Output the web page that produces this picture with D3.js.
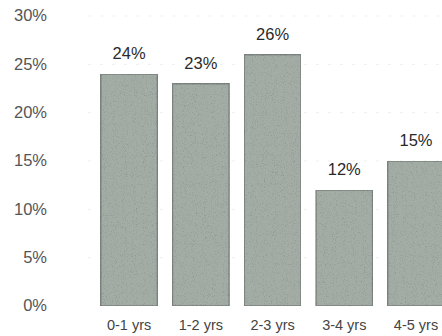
<!DOCTYPE html>
<html>
<head>
<meta charset="utf-8">
<script src="https://cdn.jsdelivr.net/npm/d3@7"></script>
<style>
  html, body { margin: 0; padding: 0; background: #fff; }
  svg { display: block; font-family: "Liberation Sans", Arial, sans-serif; }
</style>
</head>
<body>
<svg id="chart" width="442" height="336"></svg>
<script>
// Share of tenure bands
const categories = ["0-1 yrs", "1-2 yrs", "2-3 yrs", "3-4 yrs", "4-5 yrs"];
const shares = [24, 23, 26, 12, 15];
const yTicks = [0, 5, 10, 15, 20, 25, 30];

const svg = d3.select("#chart");
const W = 442, H = 336;

const y = d3.scaleLinear().domain([0, 30]).range([306, 16]);
const x = d3.scaleBand()
  .domain(categories)
  .range([93.2, 451.9])
  .paddingInner(0.21)
  .paddingOuter(0.105);

// grainy fill for the bars
const defs = svg.append("defs");
const f = defs.append("filter").attr("id", "grain")
  .attr("x", 0).attr("y", 0).attr("width", 1).attr("height", 1);
f.append("feTurbulence").attr("type", "fractalNoise")
  .attr("baseFrequency", 1.1).attr("numOctaves", 2).attr("seed", 7).attr("result", "noise");
f.append("feColorMatrix").attr("in", "noise").attr("type", "saturate").attr("values", 0).attr("result", "gray");
const ct = f.append("feComponentTransfer").attr("in", "gray").attr("result", "soft");
ct.append("feFuncR").attr("type", "linear").attr("slope", 1.1).attr("intercept", 0.47);
ct.append("feFuncG").attr("type", "linear").attr("slope", 1.1).attr("intercept", 0.47);
ct.append("feFuncB").attr("type", "linear").attr("slope", 1.1).attr("intercept", 0.47);
ct.append("feFuncA").attr("type", "linear").attr("slope", 0).attr("intercept", 1);
f.append("feBlend").attr("in", "SourceGraphic").attr("in2", "soft").attr("mode", "multiply").attr("result", "mix");
f.append("feComposite").attr("in", "mix").attr("in2", "SourceGraphic").attr("operator", "in");

// faint dashed gridlines
svg.append("g")
  .selectAll("line")
  .data(yTicks.filter(d => d > 0))
  .join("line")
  .attr("x1", 88).attr("x2", W)
  .attr("y1", d => y(d)).attr("y2", d => y(d))
  .attr("stroke", "#efefef")
  .attr("stroke-width", 1)
  .attr("stroke-dasharray", "3,9");

// y axis labels (no axis line)
const yAxis = d3.axisLeft(y)
  .tickValues(yTicks)
  .tickFormat(d => d + "%")
  .tickSize(0)
  .tickPadding(0);
const gy = svg.append("g").attr("transform", "translate(47,0)").call(yAxis);
gy.select(".domain").remove();
gy.selectAll("text")
  .attr("font-family", "'Liberation Sans', Arial, sans-serif")
  .attr("font-size", 16.5)
  .attr("fill", "#555")
  .attr("dy", "0.3em");

// bars
svg.append("g")
  .selectAll("rect")
  .data(shares)
  .join("rect")
  .attr("x", (d, i) => x(categories[i]))
  .attr("y", d => y(d))
  .attr("width", x.bandwidth())
  .attr("height", d => y(0) - y(d))
  .attr("fill", "#a3ada6")
  .attr("stroke", "#7c827e")
  .attr("stroke-width", 1.5)
  .attr("filter", "url(#grain)");

// value labels above bars
svg.append("g")
  .selectAll("text")
  .data(shares)
  .join("text")
  .attr("x", (d, i) => x(categories[i]) + x.bandwidth() / 2)
  .attr("y", d => y(d) - 15)
  .attr("text-anchor", "middle")
  .attr("font-size", 16.5)
  .attr("fill", "#2a2a2a")
  .text(d => d + "%");

// category labels
const xAxis = d3.axisBottom(x).tickSize(0).tickPadding(0);
const gx = svg.append("g").attr("transform", "translate(0,330)").call(xAxis);
gx.select(".domain").remove();
gx.selectAll("text")
  .attr("font-family", "'Liberation Sans', Arial, sans-serif")
  .attr("font-size", 14.5)
  .attr("fill", "#444")
  .attr("y", 0)
  .attr("dy", 0);
</script>
</body>
</html>
